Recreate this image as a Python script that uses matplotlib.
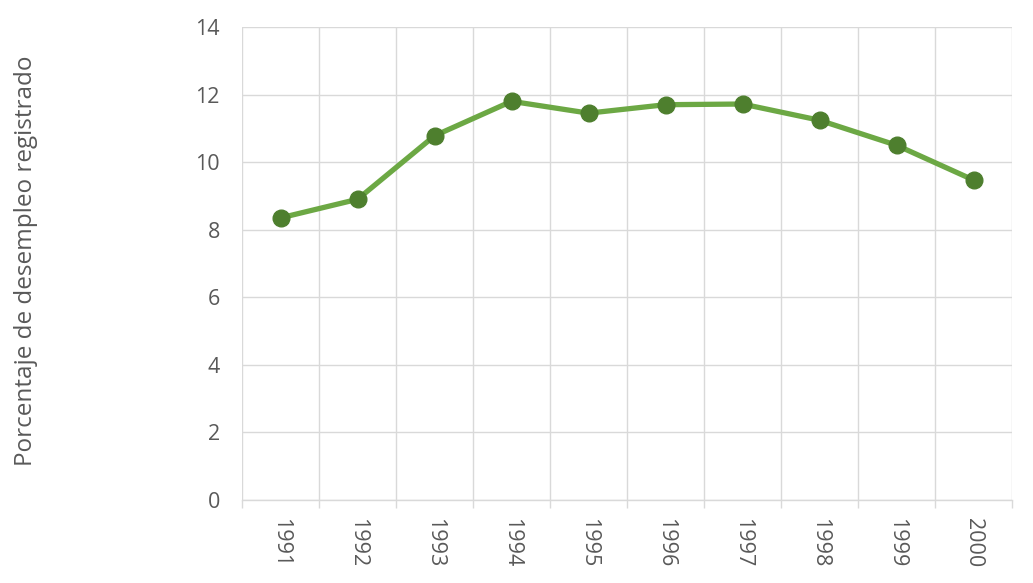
import matplotlib
matplotlib.use("Agg")
import matplotlib.pyplot as plt
import numpy as np

years = ["1991", "1992", "1993", "1994", "1995", "1996", "1997", "1998", "1999", "2000"]
values = [8.35, 8.9, 10.78, 11.8, 11.45, 11.7, 11.72, 11.24, 10.5, 9.47]
y_ticks = [0, 2, 4, 6, 8, 10, 12, 14]

plt.rcParams['font.family'] = ['Open Sans', 'DejaVu Sans']

fig = plt.figure(figsize=(10.33, 5.83), dpi=100)
ax = fig.add_axes([0.2343, 0.1424, 0.7454, 0.8113])

x = np.arange(len(years))
ax.plot(x, values, color='#6CA844', linewidth=3.8, marker='o', markersize=12,
        markerfacecolor='#4E7F2E', markeredgecolor='#4E7F2E', zorder=3)

ax.set_xlim(-0.5, len(years) - 0.5)
ax.set_ylim(0, 14)
ax.set_yticks(y_ticks)
ax.set_yticklabels([str(v) for v in y_ticks])
ax.set_xticks(x)
ax.set_xticklabels(years, rotation=-90)
ax.set_xticks(np.arange(-0.5, len(years)), minor=True)

ax.grid(True, which='major', axis='y', color='#d9d9d9', linewidth=1.0)
ax.grid(True, which='minor', axis='x', color='#d9d9d9', linewidth=1.0)
ax.tick_params(axis='x', which='major', length=0, pad=13, labelsize=15.5, labelcolor='#595959')
ax.tick_params(axis='x', which='minor', length=6, color='#d9d9d9', width=1.0)
ax.tick_params(axis='y', which='major', length=0, pad=16, labelsize=15.5, labelcolor='#595959')

for s in ['top', 'right', 'left']:
    ax.spines[s].set_visible(False)
ax.spines['bottom'].set_color('#d9d9d9')
ax.spines['bottom'].set_linewidth(1.0)

fig.text(0.025, 0.552, 'Porcentaje de desempleo registrado', rotation=90,
         ha='center', va='center', fontsize=17.5, color='#595959')

fig.savefig('out.png', dpi=100, facecolor='white')
